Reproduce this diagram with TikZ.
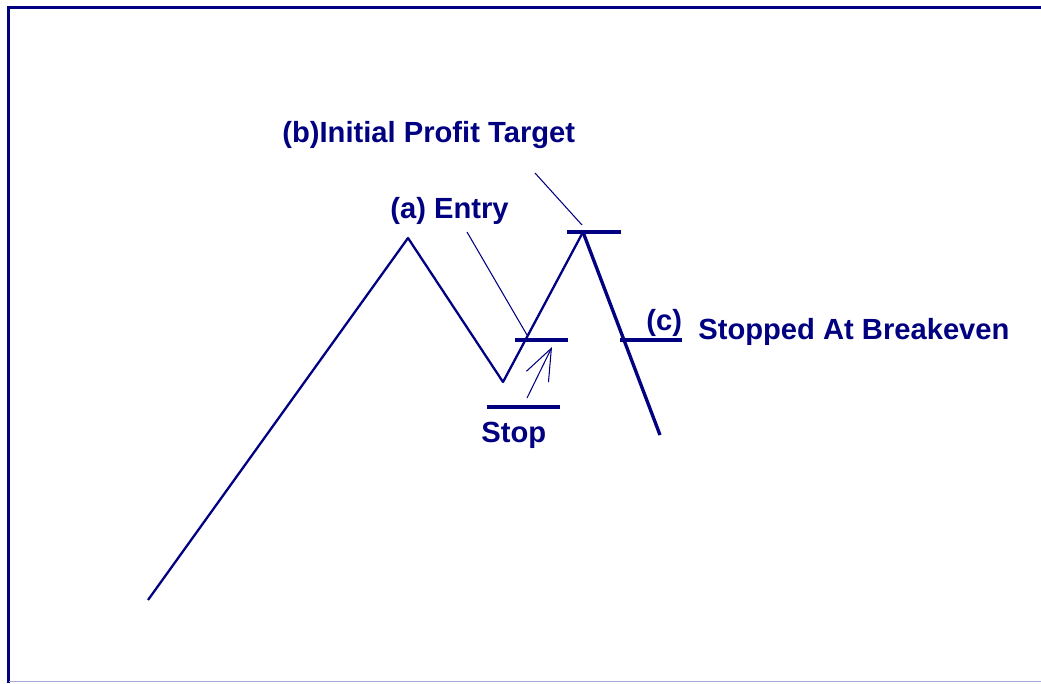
\documentclass[tikz,border=0pt]{standalone}
\usepackage{fontspec}
\setmainfont{Liberation Sans}
\usepackage{xcolor}
\usetikzlibrary{arrows.meta}
\definecolor{ChartNavy}{HTML}{000080}
\definecolor{ChartEdge}{HTML}{A8A8D8}

\begin{document}
\begin{tikzpicture}[
  x=0.02cm, y=-0.02cm,
  every node/.style={font=\fontsize{16.6}{19}\selectfont\bfseries, text=ChartNavy, inner sep=0pt, anchor=west},
  price/.style={draw=ChartNavy, line width=1.3pt, line join=round},
  level/.style={draw=ChartNavy, line width=2.2pt},
  pointer/.style={draw=ChartNavy, line width=0.6pt},
  push/.style={draw=ChartNavy, line width=0.6pt, -{Straight Barb[length=18pt, width=14pt]}}
]
\useasboundingbox (0,0) rectangle (1041,683);

% frame
\draw[draw=ChartNavy, line width=2pt] (8.5,683) -- (8.5,7.5) -- (1041,7.5);
\draw[draw=ChartEdge, line width=0.6pt] (8.5,681.5) -- (1041,681.5);

% price swings
\coordinate (p0) at (148,600);
\coordinate (p1) at (408,238);
\coordinate (p2) at (503,382);
\coordinate (p3) at (583,232);
\coordinate (p4) at (660,435);
\draw[price] (p0) -- (p1) -- (p2) -- (p3);
\draw[price, line width=1.9pt] (p3) -- (p4);

% levels
\draw[level] (515,340) coordinate (entryL) -- (568,340) coordinate (entryR);
\draw[level] (487,407) coordinate (stopL) -- (560,407) coordinate (stopR);
\draw[level] (567,232) coordinate (targetL) -- (621,232) coordinate (targetR);
\draw[level] (620,340) coordinate (evenL) -- (682,340) coordinate (evenR);

% labels
\node (target) at (282,135) {(b)Initial Profit Target};
\node (entry) at (390,211) {(a) Entry};
\node (stop) at (481,435) {Stop};
\node (c) at (646,323) {(c)};
\node (even) at (698,332) {Stopped At Breakeven};

% pointers
\coordinate (entryFrom) at (467,232);
\coordinate (entryTo) at (527,335);
\coordinate (targetFrom) at (535,173);
\coordinate (targetTo) at (582,225);
\coordinate (pushFrom) at (527,398);
\coordinate (pushTo) at (552,347);
\draw[pointer] (entryFrom) -- (entryTo);
\draw[pointer] (targetFrom) -- (targetTo);
\draw[push] (pushFrom) -- (pushTo);
\end{tikzpicture}
\end{document}
